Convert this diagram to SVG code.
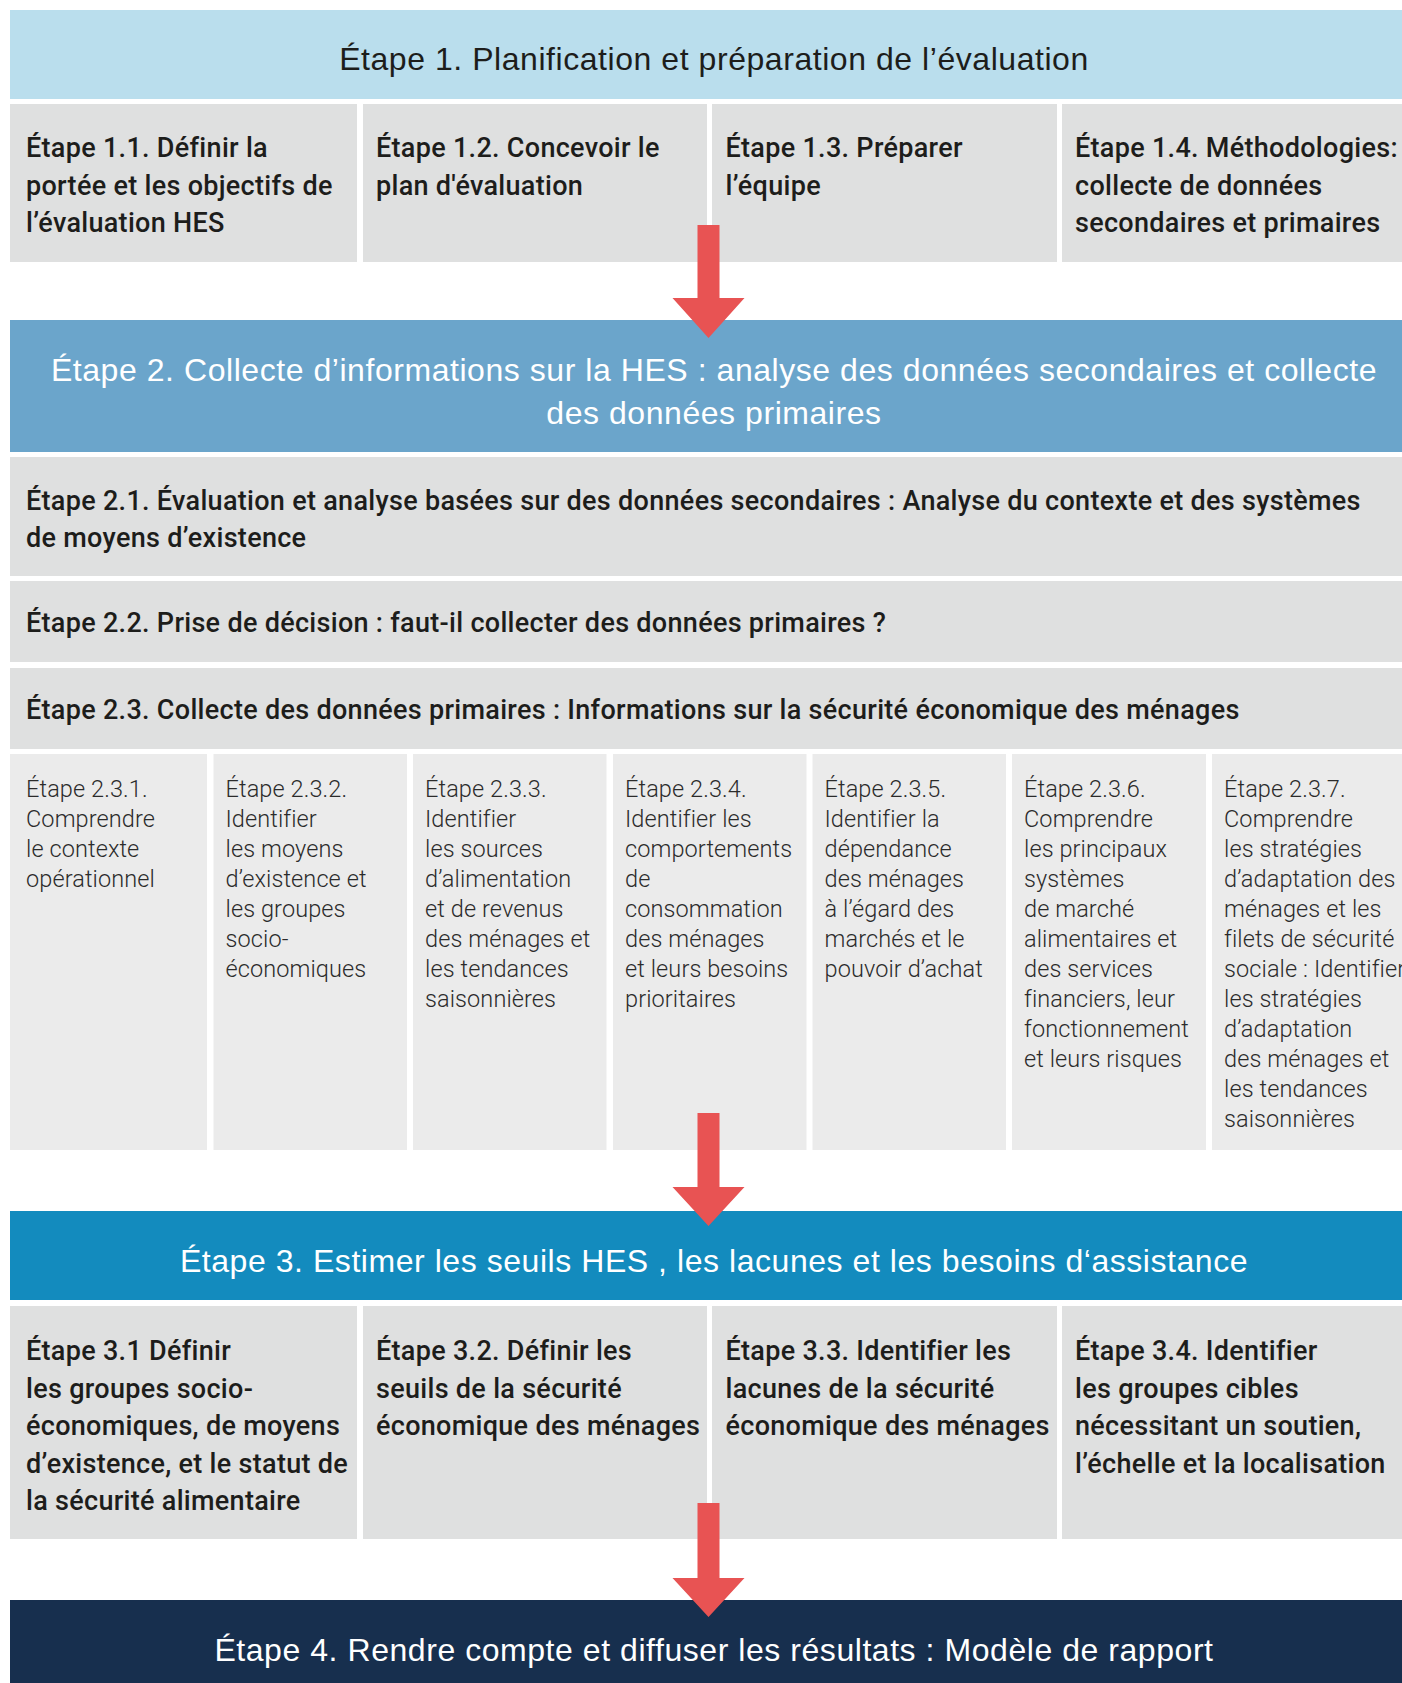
<svg xmlns="http://www.w3.org/2000/svg" width="1402" height="1683" viewBox="0 0 1402 1683">
<style>
.bg{fill:#ffffff}
.h1{fill:#badeed}
.h2{fill:#6ba5cb}
.h3{fill:#138bbe}
.h4{fill:#172f4e}
.g{fill:#dfe0e0}
.gl{fill:#ebebeb}
.arrow{fill:#e85353}
.ht{font-family:"Liberation Sans",Arial,sans-serif;font-size:32px;letter-spacing:0.55px;text-anchor:middle}
.dk{fill:#1d1d1b}
.wt{fill:#ffffff}
.md{font-family:Roboto,"Liberation Sans",Arial,sans-serif;font-weight:500;font-size:27px;letter-spacing:0.3px;fill:#1d1d1b}
.lt{font-family:Roboto,"Liberation Sans",Arial,sans-serif;font-weight:300;font-size:23.5px;letter-spacing:0.1px;fill:#2b2b2b}
</style>
<rect class="bg" x="0" y="0" width="1402" height="1683"/>

<g id="step1">
<rect class="h1" x="10" y="10" width="1392" height="89"/>
<text class="ht dk" x="714" y="70">Étape 1. Planification et préparation de l’évaluation</text>
</g>
<g id="step1-1">
<rect class="g" x="10" y="104" width="347" height="158"/>
<text class="md" x="26" y="157">Étape 1.1. Définir la</text>
<text class="md" x="26" y="194.5">portée et les objectifs de</text>
<text class="md" x="26" y="232">l’évaluation HES</text>
</g>
<g id="step1-2">
<rect class="g" x="363" y="104" width="344" height="158"/>
<text class="md" x="376" y="157">Étape 1.2. Concevoir le</text>
<text class="md" x="376" y="194.5">plan d'évaluation</text>
</g>
<g id="step1-3">
<rect class="g" x="712" y="104" width="345" height="158"/>
<text class="md" x="725.5" y="157">Étape 1.3. Préparer</text>
<text class="md" x="725.5" y="194.5">l’équipe</text>
</g>
<g id="step1-4">
<rect class="g" x="1062" y="104" width="340" height="158"/>
<text class="md" x="1075" y="157">Étape 1.4. Méthodologies:</text>
<text class="md" x="1075" y="194.5">collecte de données</text>
<text class="md" x="1075" y="232">secondaires et primaires</text>
</g>

<g id="step2">
<rect class="h2" x="10" y="320" width="1392" height="132"/>
<text class="ht wt" x="714" y="381">Étape 2. Collecte d’informations sur la HES : analyse des données secondaires et collecte</text>
<text class="ht wt" x="714" y="424">des données primaires</text>
</g>
<g id="step2-1">
<rect class="g" x="10" y="457" width="1392" height="119"/>
<text class="md" x="26" y="510">Étape 2.1. Évaluation et analyse basées sur des données secondaires : Analyse du contexte et des systèmes</text>
<text class="md" x="26" y="547">de moyens d’existence</text>
</g>
<g id="step2-2">
<rect class="g" x="10" y="581" width="1392" height="81"/>
<text class="md" x="26" y="632">Étape 2.2. Prise de décision : faut-il collecter des données primaires ?</text>
</g>
<g id="step2-3">
<rect class="g" x="10" y="668" width="1392" height="81"/>
<text class="md" x="26" y="719">Étape 2.3. Collecte des données primaires : Informations sur la sécurité économique des ménages</text>
</g>

<g id="step2-3-1">
<rect class="gl" x="10" y="754" width="197" height="396"/>
<text class="lt" x="26" y="797">Étape 2.3.1.</text>
<text class="lt" x="26" y="827">Comprendre</text>
<text class="lt" x="26" y="857">le contexte</text>
<text class="lt" x="26" y="887">opérationnel</text>
</g>
<g id="step2-3-2">
<rect class="gl" x="213.5" y="754" width="193.5" height="396"/>
<text class="lt" x="225.5" y="797">Étape 2.3.2.</text>
<text class="lt" x="225.5" y="827">Identifier</text>
<text class="lt" x="225.5" y="857">les moyens</text>
<text class="lt" x="225.5" y="887">d’existence et</text>
<text class="lt" x="225.5" y="917">les groupes</text>
<text class="lt" x="225.5" y="947">socio-</text>
<text class="lt" x="225.5" y="977">économiques</text>
</g>
<g id="step2-3-3">
<rect class="gl" x="413" y="754" width="193.5" height="396"/>
<text class="lt" x="425" y="797">Étape 2.3.3.</text>
<text class="lt" x="425" y="827">Identifier</text>
<text class="lt" x="425" y="857">les sources</text>
<text class="lt" x="425" y="887">d’alimentation</text>
<text class="lt" x="425" y="917">et de revenus</text>
<text class="lt" x="425" y="947">des ménages et</text>
<text class="lt" x="425" y="977">les tendances</text>
<text class="lt" x="425" y="1007">saisonnières</text>
</g>
<g id="step2-3-4">
<rect class="gl" x="613" y="754" width="193.5" height="396"/>
<text class="lt" x="625" y="797">Étape 2.3.4.</text>
<text class="lt" x="625" y="827">Identifier les</text>
<text class="lt" x="625" y="857">comportements</text>
<text class="lt" x="625" y="887">de</text>
<text class="lt" x="625" y="917">consommation</text>
<text class="lt" x="625" y="947">des ménages</text>
<text class="lt" x="625" y="977">et leurs besoins</text>
<text class="lt" x="625" y="1007">prioritaires</text>
</g>
<g id="step2-3-5">
<rect class="gl" x="812.5" y="754" width="193.5" height="396"/>
<text class="lt" x="824.5" y="797">Étape 2.3.5.</text>
<text class="lt" x="824.5" y="827">Identifier la</text>
<text class="lt" x="824.5" y="857">dépendance</text>
<text class="lt" x="824.5" y="887">des ménages</text>
<text class="lt" x="824.5" y="917">à l’égard des</text>
<text class="lt" x="824.5" y="947">marchés et le</text>
<text class="lt" x="824.5" y="977">pouvoir d’achat</text>
</g>
<g id="step2-3-6">
<rect class="gl" x="1012" y="754" width="194" height="396"/>
<text class="lt" x="1024" y="797">Étape 2.3.6.</text>
<text class="lt" x="1024" y="827">Comprendre</text>
<text class="lt" x="1024" y="857">les principaux</text>
<text class="lt" x="1024" y="887">systèmes</text>
<text class="lt" x="1024" y="917">de marché</text>
<text class="lt" x="1024" y="947">alimentaires et</text>
<text class="lt" x="1024" y="977">des services</text>
<text class="lt" x="1024" y="1007">financiers, leur</text>
<text class="lt" x="1024" y="1037">fonctionnement</text>
<text class="lt" x="1024" y="1067">et leurs risques</text>
</g>
<g id="step2-3-7">
<rect class="gl" x="1212" y="754" width="190" height="396"/>
<text class="lt" x="1224" y="797">Étape 2.3.7.</text>
<text class="lt" x="1224" y="827">Comprendre</text>
<text class="lt" x="1224" y="857">les stratégies</text>
<text class="lt" x="1224" y="887">d’adaptation des</text>
<text class="lt" x="1224" y="917">ménages et les</text>
<text class="lt" x="1224" y="947">filets de sécurité</text>
<text class="lt" x="1224" y="977">sociale : Identifier</text>
<text class="lt" x="1224" y="1007">les stratégies</text>
<text class="lt" x="1224" y="1037">d’adaptation</text>
<text class="lt" x="1224" y="1067">des ménages et</text>
<text class="lt" x="1224" y="1097">les tendances</text>
<text class="lt" x="1224" y="1127">saisonnières</text>
</g>

<g id="step3">
<rect class="h3" x="10" y="1211" width="1392" height="89"/>
<text class="ht wt" x="714" y="1272">Étape 3. Estimer les seuils HES , les lacunes et les besoins d‘assistance</text>
</g>
<g id="step3-1">
<rect class="g" x="10" y="1306" width="347" height="233"/>
<text class="md" x="26" y="1360">Étape 3.1 Définir</text>
<text class="md" x="26" y="1397.5">les groupes socio-</text>
<text class="md" x="26" y="1435">économiques, de moyens</text>
<text class="md" x="26" y="1472.5">d’existence, et le statut de</text>
<text class="md" x="26" y="1510">la sécurité alimentaire</text>
</g>
<g id="step3-2">
<rect class="g" x="363" y="1306" width="344" height="233"/>
<text class="md" x="376" y="1360">Étape 3.2. Définir les</text>
<text class="md" x="376" y="1397.5">seuils de la sécurité</text>
<text class="md" x="376" y="1435">économique des ménages</text>
</g>
<g id="step3-3">
<rect class="g" x="712" y="1306" width="345" height="233"/>
<text class="md" x="725.5" y="1360">Étape 3.3. Identifier les</text>
<text class="md" x="725.5" y="1397.5">lacunes de la sécurité</text>
<text class="md" x="725.5" y="1435">économique des ménages</text>
</g>
<g id="step3-4">
<rect class="g" x="1062" y="1306" width="340" height="233"/>
<text class="md" x="1075" y="1360">Étape 3.4. Identifier</text>
<text class="md" x="1075" y="1397.5">les groupes cibles</text>
<text class="md" x="1075" y="1435">nécessitant un soutien,</text>
<text class="md" x="1075" y="1472.5">l’échelle et la localisation</text>
</g>

<g id="step4">
<rect class="h4" x="10" y="1600" width="1392" height="83"/>
<text class="ht wt" x="714" y="1661">Étape 4. Rendre compte et diffuser les résultats : Modèle de rapport</text>
</g>

<g id="connectors">
<polygon class="arrow" points="697.5,225 719.5,225 719.5,298 744.5,298 708.5,338 672.5,298 697.5,298"/>
<polygon class="arrow" points="697.5,1113 719.5,1113 719.5,1187 744.5,1187 708.5,1226 672.5,1187 697.5,1187"/>
<polygon class="arrow" points="697.5,1503 719.5,1503 719.5,1578 744.5,1578 708.5,1617 672.5,1578 697.5,1578"/>
</g>
</svg>
